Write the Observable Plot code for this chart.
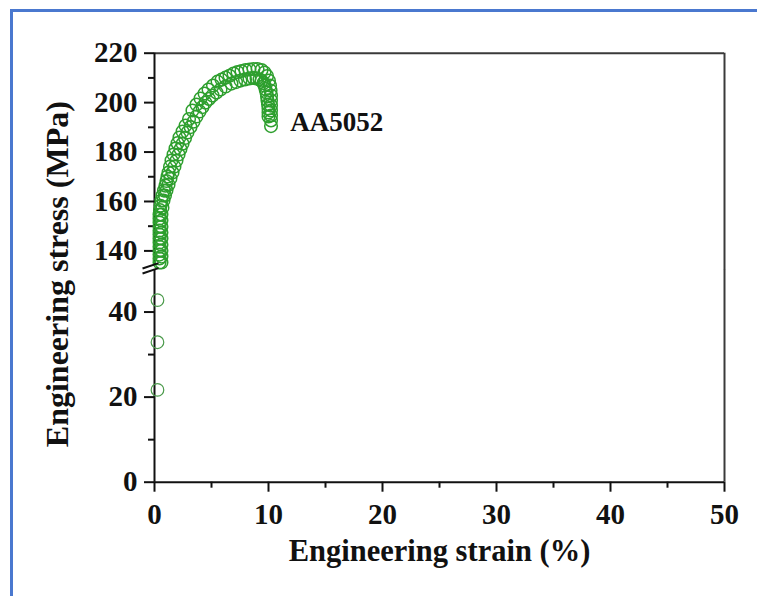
<!DOCTYPE html>
<html><head><meta charset="utf-8">
<script src="https://cdn.jsdelivr.net/npm/d3@7"></script>
<script src="https://cdn.jsdelivr.net/npm/@observablehq/plot@0.6"></script>
<style>
body{margin:0;background:#fff;}
#wrap{position:relative;width:757px;height:596px;overflow:hidden;background:#fff;}
#border{position:absolute;left:10px;top:8.5px;width:800px;height:700px;border:3px solid #4a78cf;box-sizing:border-box;}
#wrap svg{position:absolute;left:0;top:0;}
</style></head><body><div id="wrap"><div id="border"></div></div>
<script>
// Test curve of AA5052: two overlapping rows of measured points (strain %, stress MPa)
const curveUpper = [[0.44,135.3],[0.44,136.9],[0.44,138.5],[0.44,140.1],[0.44,141.7],[0.44,143.4],[0.44,145.0],[0.44,146.6],[0.44,148.2],[0.44,149.8],[0.44,151.5],[0.44,153.1],[0.44,154.7],[0.48,156.5],[0.53,158.3],[0.61,160.4],[0.70,162.4],[0.83,164.4],[0.96,166.4],[1.05,168.3],[1.14,170.1],[1.23,171.7],[1.36,174.1],[1.49,176.6],[1.67,179.0],[1.84,181.4],[2.02,183.6],[2.19,185.9],[2.46,188.3],[2.72,190.7],[3.03,193.4],[3.33,196.8],[3.68,199.2],[4.04,201.7],[4.39,203.7],[4.74,205.3],[5.13,206.9],[5.53,208.5],[5.88,209.3],[6.23,210.1],[6.58,210.9],[6.93,211.8],[7.28,212.4],[7.63,212.8],[7.98,213.2],[8.33,213.4],[8.68,213.6],[9.04,213.6],[9.39,213.2],[9.65,212.2],[9.87,210.8],[10.04,208.9],[10.13,206.9],[10.18,204.9],[10.22,202.9],[10.22,200.9],[10.22,198.8],[10.22,196.8],[10.22,194.8],[10.22,192.8],[10.22,190.5]];
const curveLower = [[0.61,135.3],[0.61,137.7],[0.61,140.1],[0.61,142.5],[0.61,145.0],[0.61,147.4],[0.61,149.8],[0.61,152.3],[0.61,154.7],[0.70,157.5],[0.79,160.4],[0.92,162.4],[1.05,164.4],[1.23,166.8],[1.40,169.3],[1.58,171.7],[1.75,174.1],[1.93,176.6],[2.11,179.0],[2.28,181.2],[2.46,183.4],[2.68,185.7],[2.89,187.9],[3.16,190.1],[3.42,192.3],[3.68,194.4],[3.95,196.4],[4.21,198.2],[4.47,200.0],[4.78,201.5],[5.09,202.9],[5.44,204.1],[5.79,205.3],[6.23,206.5],[6.75,207.7],[7.15,208.3],[7.54,208.9],[7.94,209.4],[8.33,209.8],[8.68,210.0],[8.95,209.8],[9.21,209.4],[9.39,208.9],[9.56,207.9],[9.65,206.9],[9.74,205.5],[9.82,204.1],[9.87,202.5],[9.91,200.9],[9.96,199.2],[10.0,197.6],[10.0,196.0],[10.0,194.4]];
const elasticPoints = [[0.26,42.8],[0.26,32.9],[0.26,21.7]];

const xTicks = [0,10,20,30,40,50];
const xMinorTicks = [5,15,25,35,45];
const yTicksUpper = [140,160,180,200,220];
const yMinorUpper = [150,170,190,210];
const yTicksLower = [0,20,40];
const yMinorLower = [10,30];
const seriesLabel = "AA5052";
const xTitle = "Engineering strain (%)";
const yTitle = "Engineering stress (MPa)";

const xDomain = [0, 50];
const upperDomain = [134.5, 220];
const lowerDomain = [0, 50];

const W = 757, H = 596;
const green = "#2e9f2e";
const font = "'Liberation Serif','Times New Roman',serif";
const style = {fontFamily: font, fontWeight: "bold", fontSize: "29px", color: "#111", background: "transparent", overflow: "visible"};
const dotOpts = {x: d => d[0], y: d => d[1], r: 6.3, stroke: green, strokeWidth: 1.5, fill: "none"};

const upper = Plot.plot({
  width: W, height: H,
  marginLeft: 154, marginRight: 33, marginTop: 52.7, marginBottom: H - 264,
  x: {domain: xDomain, axis: null},
  y: {domain: upperDomain, axis: null},
  style,
  marks: [
    Plot.ruleY([upperDomain[1]], {stroke: "#3a3a3a", strokeWidth: 2}),
    Plot.ruleX([xDomain[1]], {y1: 132.4, y2: upperDomain[1], stroke: "#3a3a3a", strokeWidth: 2}),
    Plot.ruleX([xDomain[0]], {y1: upperDomain[0], y2: upperDomain[1], stroke: "#111", strokeWidth: 2}),
    Plot.axisY(yTicksUpper, {tickSize: 10, tickPadding: 7, strokeWidth: 2, stroke: "#111", fontSize: 29, label: null}),
    Plot.axisY(yMinorUpper, {tickSize: 6, strokeWidth: 2, stroke: "#111", tickFormat: () => "", label: null}),
    Plot.dot(curveLower, dotOpts),
    Plot.dot(curveUpper, dotOpts),
    Plot.text([seriesLabel], {x: 11.9, y: 192.1, text: d => d, textAnchor: "start", fontSize: 27, fill: "#111"})
  ]
});

const lower = Plot.plot({
  width: W, height: H,
  marginLeft: 154, marginRight: 33, marginTop: 269, marginBottom: H - 481.7,
  x: {domain: xDomain, axis: null},
  y: {domain: lowerDomain, axis: null},
  style,
  marks: [
    Plot.ruleX([xDomain[1]], {y1: 0, y2: lowerDomain[1], stroke: "#3a3a3a", strokeWidth: 2}),
    Plot.ruleX([xDomain[0]], {y1: 0, y2: lowerDomain[1], stroke: "#111", strokeWidth: 2}),
    Plot.ruleY([0], {stroke: "#111", strokeWidth: 2}),
    Plot.axisY(yTicksLower, {tickSize: 10, tickPadding: 7, strokeWidth: 2, stroke: "#111", fontSize: 29, label: null}),
    Plot.axisY(yMinorLower, {tickSize: 6, strokeWidth: 2, stroke: "#111", tickFormat: () => "", label: null}),
    Plot.axisX(xTicks, {tickSize: 10, tickPadding: 11, strokeWidth: 2, stroke: "#111", fontSize: 29, label: null}),
    Plot.axisX(xMinorTicks, {tickSize: 6, strokeWidth: 2, stroke: "#111", tickFormat: () => "", label: null}),
    // axis break marks
    Plot.link([[-1.05, 50.24, 0.35, 51.5], [-1.05, 49.06, 0.35, 50.33]], {x1: d => d[0], y1: d => d[1], x2: d => d[2], y2: d => d[3], stroke: "#111", strokeWidth: 2}),
    Plot.dot(elasticPoints, {...dotOpts, stroke: "#4a9a4a", strokeWidth: 1.2}),
    Plot.text([xTitle], {frameAnchor: "bottom", dy: 69, text: d => d, fontSize: 30.5, fill: "#111", lineAnchor: "middle"}),
    Plot.text([yTitle], {x: -8.5, y: 48.9, text: d => d, rotate: -90, fontSize: 32, fill: "#111", lineAnchor: "middle"})
  ]
});

const wrap = document.getElementById("wrap");
wrap.appendChild(upper);
wrap.appendChild(lower);
</script>
</body></html>
